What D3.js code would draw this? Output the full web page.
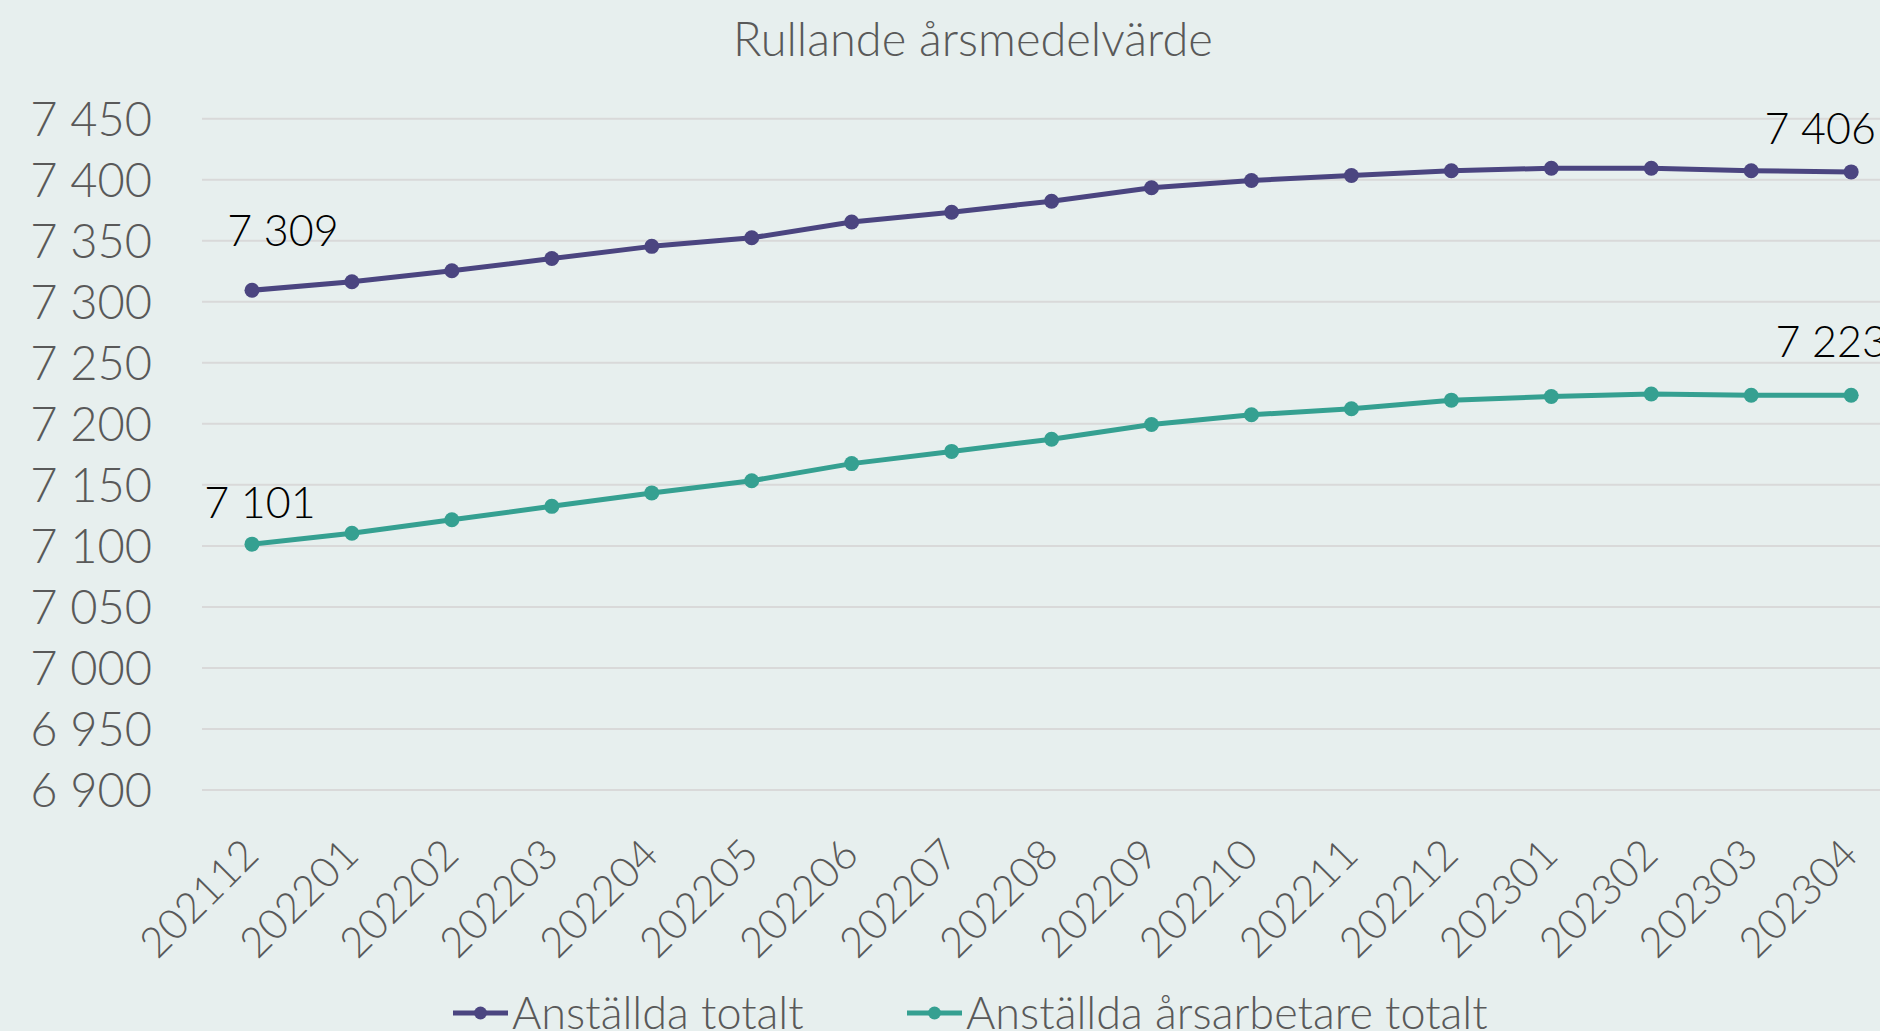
<!DOCTYPE html>
<html>
<head>
<meta charset="utf-8">
<script src="https://cdn.jsdelivr.net/npm/d3@7"></script>
<style>
  html, body { margin: 0; padding: 0; background: #e7efee; }
  svg { display: block; }
  text { font-family: Lato, "Open Sans", sans-serif; font-weight: 300; }
</style>
</head>
<body>
<svg id="chart" width="1880" height="1031"></svg>
<script>
const title = "Rullande årsmedelvärde";
const categories = ["202112","202201","202202","202203","202204","202205","202206","202207","202208","202209","202210","202211","202212","202301","202302","202303","202304"];
const seriesNames = ["Anställda totalt", "Anställda årsarbetare totalt"];
const anstallda = [7309, 7316, 7325, 7335, 7345, 7352, 7365, 7373, 7382, 7393, 7399, 7403, 7407, 7409, 7409, 7407, 7406];
const arsarbetare = [7101, 7110, 7121, 7132, 7143, 7153, 7167, 7177, 7187, 7199, 7207, 7212, 7219, 7222, 7224, 7223, 7223];
const yTicks = [6900, 6950, 7000, 7050, 7100, 7150, 7200, 7250, 7300, 7350, 7400, 7450];

const colors = ["#4b4580", "#35a091"];
const W = 1880, H = 1031;
const svg = d3.select("#chart");
svg.append("rect").attr("width", W).attr("height", H).attr("fill", "#e7efee");

const fmt = d3.formatLocale({decimal: ",", thousands: "\u00a0", grouping: [3], currency: ["", " kr"]}).format(",d");

const x = d3.scaleBand().domain(categories).range([202, 202 + 17 * 99.95]).padding(0);
const xc = d => x(d) + x.bandwidth() / 2;
const y = d3.scaleLinear().domain([6900, 7450]).range([789.5, 118.2]);

// title
svg.append("text").attr("x", 973).attr("y", 56).attr("text-anchor", "middle")
  .attr("font-size", 47).attr("fill", "#595959").text(title);

// gridlines + y axis
const yAxis = d3.axisLeft(y).tickValues(yTicks).tickSize(0).tickFormat(fmt);
const yg = svg.append("g").attr("transform", "translate(152,0)").call(yAxis);
yg.select(".domain").remove();
yg.selectAll("text").attr("x", 0).attr("dy", null).attr("dominant-baseline", null)
  .attr("y", 17).attr("font-size", 47).attr("fill", "#595959").attr("font-family", null);

const grid = d3.axisLeft(y).tickValues(yTicks).tickSize(-(x.range()[1] - x.range()[0])).tickFormat("");
const gg = svg.append("g").attr("transform", `translate(${x.range()[0]},0)`).call(grid);
gg.select(".domain").remove();
gg.selectAll("line").attr("stroke", "#d9d9d9").attr("stroke-width", 2);

// x axis labels
const xAxis = d3.axisBottom(x).tickSize(0);
const xg = svg.append("g").attr("transform", "translate(0,790)").call(xAxis);
xg.select(".domain").remove();
xg.selectAll("text")
  .attr("y", 0).attr("dy", null)
  .attr("text-anchor", "end")
  .attr("transform", "translate(9,67) rotate(-45)")
  .attr("font-size", 42).attr("fill", "#595959").attr("font-family", null);

// lines
const series = [anstallda, arsarbetare];
const line = d3.line().x((d, i) => xc(categories[i])).y(d => y(d));
series.forEach((vals, s) => {
  svg.append("path").datum(vals).attr("d", line)
    .attr("fill", "none").attr("stroke", colors[s]).attr("stroke-width", 5)
    .attr("stroke-linejoin", "round");
  svg.append("g").selectAll("circle").data(vals).join("circle")
    .attr("cx", (d, i) => xc(categories[i])).attr("cy", d => y(d)).attr("r", 7.5)
    .attr("fill", colors[s]);
});

// data labels (first and last)
const labelOffsets = [
  [[31, -44], [-31, -28]],
  [[8, -26], [-20, -38]]
];
series.forEach((vals, s) => {
  [0, vals.length - 1].forEach((i, k) => {
    svg.append("text")
      .attr("x", xc(categories[i]) + labelOffsets[s][k][0])
      .attr("y", y(vals[i]) + labelOffsets[s][k][1])
      .attr("text-anchor", "middle").attr("font-size", 43).attr("fill", "#000")
      .text(fmt(vals[i]));
  });
});

// legend
const legendPos = [453, 907];
seriesNames.forEach((name, s) => {
  const g = svg.append("g").attr("transform", `translate(${legendPos[s]},1013)`);
  g.append("line").attr("x1", 0).attr("x2", 55).attr("stroke", colors[s]).attr("stroke-width", 5);
  g.append("circle").attr("cx", 27.5).attr("r", 6.5).attr("fill", colors[s]);
  g.append("text").attr("x", 59).attr("y", 16).attr("font-size", 45).attr("fill", "#595959").text(name);
});
</script>
</body>
</html>
